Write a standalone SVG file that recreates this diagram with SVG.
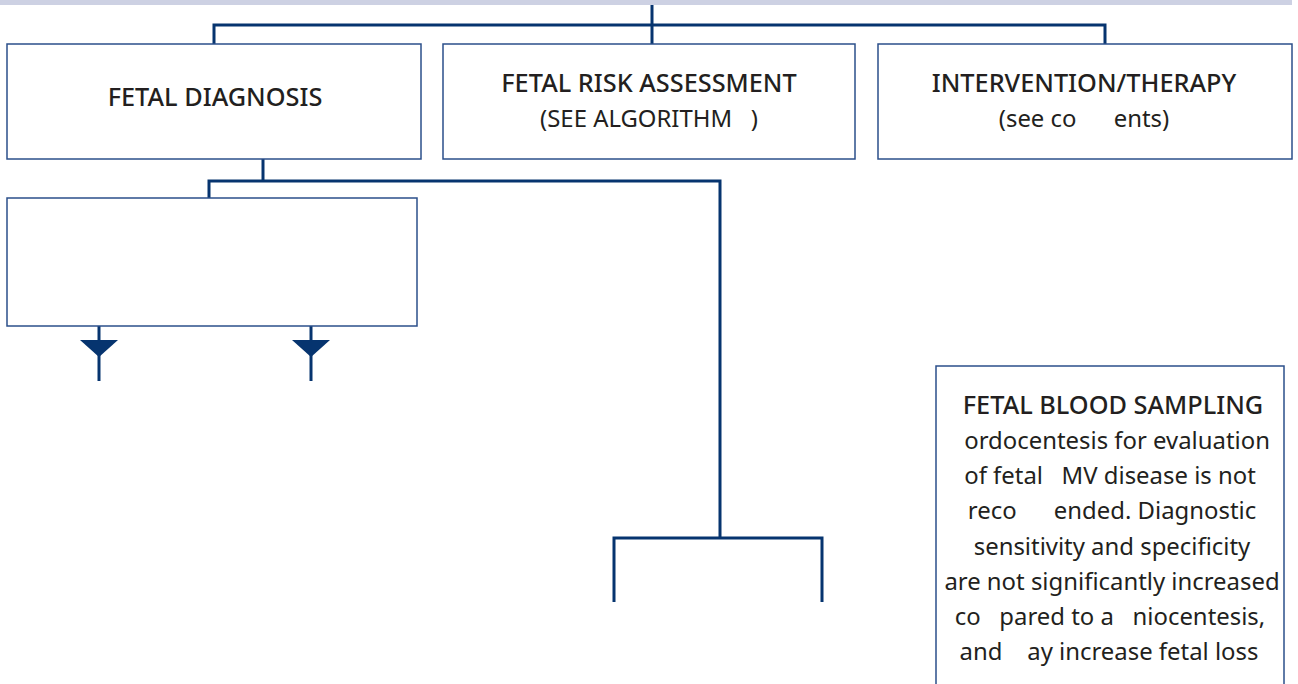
<svg xmlns="http://www.w3.org/2000/svg" width="1298" height="684" viewBox="0 0 1298 684">
  <style>
    .box { fill: #ffffff; stroke: #2b4f8a; stroke-width: 1.5; }
    .wire { fill: none; stroke: #06346f; stroke-width: 3; stroke-linecap: butt; stroke-linejoin: miter; }
    .head { font-family: "Noto Sans", "Open Sans", sans-serif; font-size: 25.3px; font-weight: 500; fill: #231f20; text-anchor: middle; white-space: pre; }
    .body { font-family: "Noto Sans", "Open Sans", sans-serif; font-size: 23.9px; fill: #231f20; text-anchor: middle; white-space: pre; }
  </style>
  <rect x="0" y="0" width="1292" height="5" fill="#cdd1e3"/>

  <g id="connectors">
    <path class="wire" d="M652 5 V44"/>
    <path class="wire" d="M214 44 V25 H1105 V44"/>
    <path class="wire" d="M263 159 V181"/>
    <path class="wire" d="M209 198 V181 H720 V538"/>
    <path class="wire" d="M614 602 V538 H822 V602"/>
    <path class="wire" d="M99 326 V381"/>
    <path class="wire" d="M311 326 V381"/>
    <path d="M80 340 H118 L99 357 Z" fill="#06346f"/>
    <path d="M292 340 H330 L311 357 Z" fill="#06346f"/>
  </g>

  <g id="fetal-diagnosis">
    <rect class="box" x="7" y="44" width="414" height="115"/>
    <text class="head" x="215" y="106">FETAL DIAGNOSIS</text>
  </g>

  <g id="fetal-risk-assessment">
    <rect class="box" x="443" y="44" width="412" height="115"/>
    <text class="head" x="649" y="92">FETAL RISK ASSESSMENT</text>
    <text class="body" x="649" y="127">(SEE ALGORITHM   )</text>
  </g>

  <g id="intervention-therapy">
    <rect class="box" x="878" y="44" width="414" height="115"/>
    <text class="head" x="1084" y="92">INTERVENTION/THERAPY</text>
    <text class="body" x="1084" y="127">(see co      ents)</text>
  </g>

  <g id="diagnosis-detail">
    <rect class="box" x="7" y="198" width="410" height="128"/>
  </g>

  <g id="fetal-blood-sampling">
    <rect class="box" x="936" y="366" width="348" height="330"/>
    <text class="head" x="1113" y="414">FETAL BLOOD SAMPLING</text>
    <text class="body" x="1114" y="449"> ordocentesis for evaluation</text>
    <text class="body" x="1110" y="484">of fetal   MV disease is not</text>
    <text class="body" x="1112" y="519">reco      ended. Diagnostic</text>
    <text class="body" x="1112" y="555">sensitivity and specificity</text>
    <text class="body" x="1112" y="590">are not significantly increased</text>
    <text class="body" x="1110" y="625">co   pared to a   niocentesis,</text>
    <text class="body" x="1109" y="660">and    ay increase fetal loss</text>
  </g>
</svg>
